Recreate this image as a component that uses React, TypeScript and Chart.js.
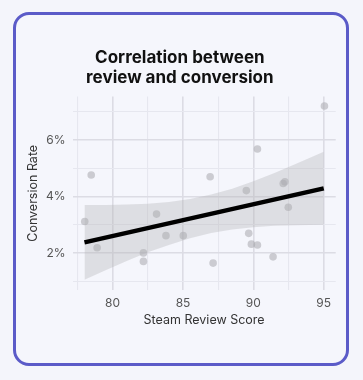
import React, { useEffect, useRef } from "react";
import { Chart, registerables } from "chart.js";

Chart.register(...registerables);

const reviewScores = [78.48, 78.02, 78.9, 82.19, 82.19, 83.12, 83.79, 85.02, 86.93, 87.14, 89.5, 89.67, 89.86, 90.29, 90.29, 91.4, 92.12, 92.24, 92.48, 95.05];
const conversionRates = [4.76, 3.12, 2.19, 2.01, 1.71, 3.38, 2.62, 2.62, 4.7, 1.65, 4.21, 2.7, 2.32, 2.29, 5.68, 1.87, 4.46, 4.52, 3.62, 7.2];

const trendX = [78, 95];
const trendY = [2.38, 4.29];

const bandX = [78, 79.5, 81, 82.5, 84, 85.5, 87, 88.5, 90, 91.5, 93, 95];
const bandUpper = [3.7, 3.7, 3.72, 3.75, 3.81, 3.91, 4.07, 4.28, 4.54, 4.83, 5.15, 5.58];
const bandLower = [1.06, 1.4, 1.72, 2.03, 2.29, 2.53, 2.71, 2.84, 2.92, 2.97, 2.99, 3.0];

const xTicks = [77.5, 80, 82.5, 85, 87.5, 90, 92.5, 95];
const yTicks = [1, 2, 3, 4, 5, 6, 7];

const BG = "#f4f5fb";

export default function App() {
  const ref = useRef<HTMLCanvasElement | null>(null);

  useEffect(() => {
    if (!ref.current) return;
    const majorX = (v: number) => v % 5 === 0;
    const majorY = (v: number) => v % 2 === 0;
    const chart = new Chart(ref.current, {
      type: "scatter",
      data: {
        datasets: [
          {
            type: "line",
            data: trendX.map((x, i) => ({ x, y: trendY[i] })),
            borderColor: "#000000",
            borderWidth: 4.5,
            pointRadius: 0,
            fill: false,
            order: 0,
          } as any,
          {
            data: reviewScores.map((x, i) => ({ x, y: conversionRates[i] })),
            backgroundColor: "rgba(172,172,178,0.58)",
            borderWidth: 0,
            pointRadius: 3.8,
            order: 1,
          },
          {
            type: "line",
            data: bandX.map((x, i) => ({ x, y: bandUpper[i] })),
            borderWidth: 0,
            borderColor: "rgba(0,0,0,0)",
            pointRadius: 0,
            fill: false,
            order: 3,
          } as any,
          {
            type: "line",
            data: bandX.map((x, i) => ({ x, y: bandLower[i] })),
            borderWidth: 0,
            borderColor: "rgba(0,0,0,0)",
            backgroundColor: "rgba(178,178,181,0.35)",
            pointRadius: 0,
            fill: "-1",
            order: 2,
          } as any,
        ],
      },
      options: {
        animation: false,
        responsive: true,
        maintainAspectRatio: false,
        layout: { padding: { left: 24, right: 27.3, top: 0, bottom: 0 } },
        plugins: {
          legend: { display: false },
          tooltip: { enabled: false },
          title: {
            display: true,
            text: ["Correlation between", "review and conversion"],
            color: "#111111",
            font: { family: "Inter", size: 17, weight: "bold", lineHeight: 1.15 },
            padding: { top: 48.5, bottom: 9 },
          },
        },
        scales: {
          x: {
            type: "linear",
            min: 77.15,
            max: 95.85,
            afterBuildTicks: (s: any) => {
              s.ticks = xTicks.map((v) => ({ value: v }));
            },
            afterFit: (s: any) => {
              s.height = 90;
            },
            ticks: {
              autoSkip: false,
              maxRotation: 0,
              padding: 6,
              color: "#555555",
              font: { family: "Inter", size: 12 },
              callback: (v: any) => (majorX(Number(v)) ? String(v) : ""),
            },
            grid: {
              drawTicks: false,
              color: (c: any) => (c.tick && majorX(c.tick.value) ? "#dcdce4" : "#e6e7ef"),
              lineWidth: (c: any) => (c.tick && majorX(c.tick.value) ? 1.6 : 1.1),
            },
            border: { display: false },
            title: {
              display: true,
              text: "Steam Review Score",
              color: "#333333",
              font: { family: "Inter", size: 12.5 },
              padding: { top: 0, bottom: 52.5 },
            },
          },
          y: {
            type: "linear",
            min: 0.7,
            max: 7.53,
            afterBuildTicks: (s: any) => {
              s.ticks = yTicks.map((v) => ({ value: v }));
            },
            afterFit: (s: any) => {
              s.width = 48.5;
            },
            ticks: {
              autoSkip: false,
              padding: 7,
              color: "#555555",
              font: { family: "Inter", size: 12 },
              callback: (v: any) => (majorY(Number(v)) ? v + "%" : ""),
            },
            grid: {
              drawTicks: false,
              color: (c: any) => (c.tick && majorY(c.tick.value) ? "#dcdce4" : "#e6e7ef"),
              lineWidth: (c: any) => (c.tick && majorY(c.tick.value) ? 1.6 : 1.1),
            },
            border: { display: false },
            title: {
              display: true,
              text: "Conversion Rate",
              color: "#333333",
              font: { family: "Inter", size: 12.5, lineHeight: 1.2 },
              padding: { top: 1.5, bottom: 0 },
            },
          },
        },
      } as any,
    });
    return () => chart.destroy();
  }, []);

  return (
    <div style={{ position: "fixed", left: 0, top: 0, width: 363, height: 380, background: BG, overflow: "hidden" }}>
      <div
        style={{
          position: "absolute",
          left: 13,
          top: 12,
          width: 330,
          height: 348,
          border: "3.5px solid #5b5bc8",
          borderRadius: 16,
          background: "#f5f6fc",
        }}
      />
      <div style={{ position: "absolute", left: 0, top: 0, width: 363, height: 380 }}>
        <canvas ref={ref} />
      </div>
    </div>
  );
}
